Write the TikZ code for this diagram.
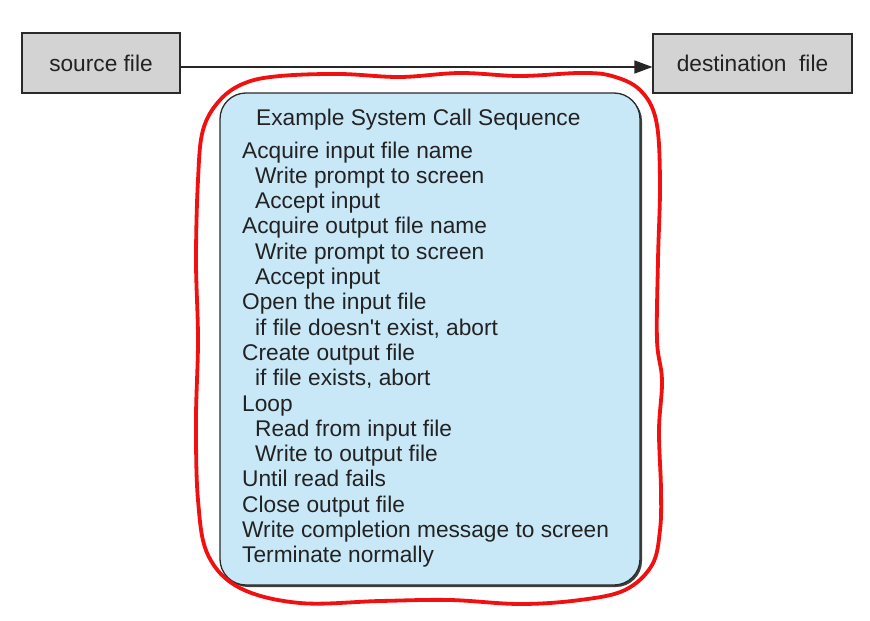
\documentclass[tikz,border=0pt]{standalone}
\usepackage{fontspec}
\setmainfont{Liberation Sans}[Ligatures=TeXOff]
\usetikzlibrary{arrows.meta}
\definecolor{txt}{HTML}{222222}
\definecolor{boxgray}{HTML}{D3D3D3}
\definecolor{boxedge}{HTML}{2A2A2A}
\definecolor{seqblue}{HTML}{C8E8F8}
\definecolor{hand}{HTML}{F01010}
\begin{document}
\begin{tikzpicture}[x=1pt,y=1pt,
  filebox/.style={draw=boxedge, line width=1.2pt, fill=boxgray, inner sep=0pt, text=txt, font=\fontsize{22.7}{25.3}\selectfont},
  seqbox/.style={draw=boxedge, line width=1.3pt, fill=seqblue, rounded corners=26pt, inner sep=0pt},
  line/.style={anchor=base west, inner sep=0pt, text=txt, font=\fontsize{22.7}{25.3}\selectfont},
  link/.style={draw=black!85, line width=1.5pt, -{Triangle[length=18pt,width=13pt]}},
  redline/.style={draw=hand, line width=3.8pt, line join=round}
]
\useasboundingbox (0,0) rectangle (870,-621);
\fill[white] (0,0) rectangle (870,-621);

\node[filebox, minimum width=158pt, minimum height=60pt] (src) at (101,-63) {source file};
\node[filebox, minimum width=199pt, minimum height=59pt] (dst) at (752.5,-63.5) {destination\ \ file};
\draw[link] ([yshift=-4pt]src.east) -- ([yshift=-3.5pt]dst.west);

% shadow and sequence box
\fill[black!75, rounded corners=26pt] (222,-95) rectangle (642,-587);
\node[seqbox, minimum width=420pt, minimum height=492pt] (seq) at (430,-339) {};

\node[line] (t0) at (256,-125) {Example System Call Sequence};
\node[line] (l1) at (242,-158) {Acquire input file name};
\node[line] (l2) at (255,-183.3) {Write prompt to screen};
\node[line] (l3) at (255,-208.6) {Accept input};
\node[line] (l4) at (242,-233.9) {Acquire output file name};
\node[line] (l5) at (255,-259.2) {Write prompt to screen};
\node[line] (l6) at (255,-284.5) {Accept input};
\node[line] (l7) at (242,-309.8) {Open the input file};
\node[line] (l8) at (255,-335.1) {if file doesn't exist, abort};
\node[line] (l9) at (242,-360.4) {Create output file};
\node[line] (l10) at (255,-385.7) {if file exists, abort};
\node[line] (l11) at (242,-411.0) {Loop};
\node[line] (l12) at (255,-436.3) {Read from input file};
\node[line] (l13) at (255,-461.6) {Write to output file};
\node[line] (l14) at (242,-486.9) {Until read fails};
\node[line] (l15) at (242,-512.2) {Close output file};
\node[line] (l16) at (242,-537.5) {Write completion message to screen};
\node[line] (l17) at (242,-562.8) {Terminate normally};

\draw[redline] plot[smooth cycle, tension=0.6] coordinates {
 (280,-76) (340,-74) (400,-77) (460,-73) (520,-76) (580,-73) (612,-76)
 (640,-90) (656,-120) (660,-180) (658,-260) (657,-340) (662,-380) (659,-430)
 (661,-490) (660,-530) (652,-565) (625,-590) (580,-600) (520,-604) (450,-600)
 (380,-601) (300,-603) (240,-588) (208,-555) (198,-500) (196,-420) (198,-340)
 (196,-260) (198,-180) (203,-130) (220,-100) (245,-83)};
\end{tikzpicture}
\end{document}
